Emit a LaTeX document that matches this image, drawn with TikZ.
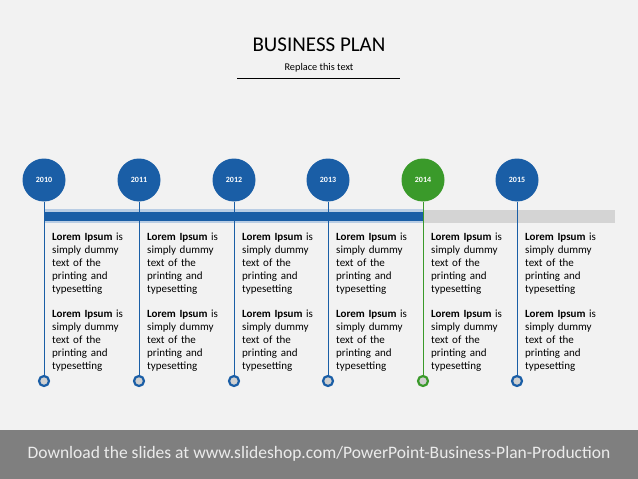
\documentclass[tikz,border=0pt]{standalone}
\usepackage{fontspec}
\setmainfont{Carlito}
\definecolor{bg}{HTML}{F2F2F2}
\definecolor{tblue}{HTML}{1A5EA6}
\definecolor{tgreen}{HTML}{3A9A2A}
\definecolor{lblue}{HTML}{B9CDE4}
\definecolor{bargray}{HTML}{D4D4D4}
\definecolor{footgray}{HTML}{7F7F7F}
\definecolor{dotgray}{HTML}{D0D0D0}
\begin{document}
\begin{tikzpicture}[x=1pt,y=-1pt,
  yearcirc/.style={circle,minimum size=43pt,inner sep=0pt,text=white,font=\fontsize{8}{9}\selectfont\bfseries},
  dot/.style={circle,minimum size=10pt,inner sep=0pt,fill=dotgray,line width=2.2pt},
  desc/.style={anchor=north west,align=left,text width=80pt,inner sep=0pt,font=\fontsize{11}{13}\selectfont},
  stem/.style={line width=1pt}]
\useasboundingbox (0,0) rectangle (638,479);
\fill[bg] (0,0) rectangle (638,479);
% title
\node (title) at (319,45) {\fontsize{21}{24}\selectfont BUSINESS PLAN};
\node (sub) at (319,68) {\fontsize{10.3}{12}\selectfont Replace this text};
\coordinate (ul1) at (237,78);
\coordinate (ul2) at (400,78);
\draw[line width=1pt] (ul1) -- (ul2);
% bars
\fill[bargray] (423,210) rectangle (615,223);
\fill[lblue] (44,209) rectangle (424,223);
\fill[tblue] (44,212) rectangle (423,220.5);
% timeline items
\foreach \i/\x/\yr/\c in {1/44/2010/tblue,2/139/2011/tblue,3/234/2012/tblue,4/328/2013/tblue,5/423/2014/tgreen,6/517/2015/tblue}{
  \node[yearcirc,fill=\c] (y\i) at (\x,180) {\yr};
  \node[dot,draw=\c] (d\i) at (\x,381) {};
  \draw[stem,draw=\c] (y\i.south) -- (d\i.north);
  \node[desc] (a\i) at (\x+8,233) {\textbf{Lorem Ipsum} is\\simply dummy\\text of the\\printing and\\typesetting};
  \node[desc] (b\i) at (\x+8,310) {\textbf{Lorem Ipsum} is\\simply dummy\\text of the\\printing and\\typesetting};
}
% footer
\fill[footgray] (0,430) rectangle (638,479);
\node[text=white!92!black] (foot) at (319,454) {\fontsize{17.5}{20}\selectfont Download the slides at www.slideshop.com/PowerPoint-Business-Plan-Production};
\end{tikzpicture}
\end{document}
